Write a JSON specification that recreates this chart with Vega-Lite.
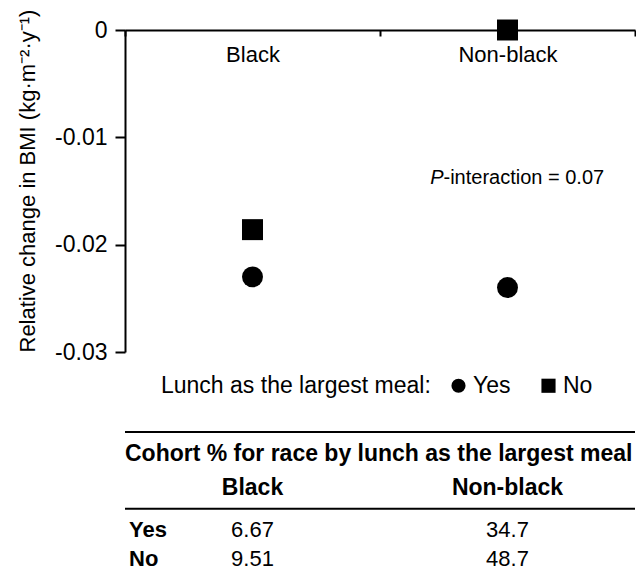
{
  "$schema": "https://vega.github.io/schema/vega-lite/v6.json",
  "padding": {"left": 16, "top": 9, "right": 0, "bottom": 0},
  "config": {
    "view": {"stroke": null},
    "font": "Liberation Sans",
    "axis": {"domainColor": "#000", "tickColor": "#000", "labelColor": "#000", "titleColor": "#000"},
    "text": {"color": "#000"}
  },
  "datasets": {
    "effects": [
      {"race": "Black", "lunch": "Yes", "change": -0.0230},
      {"race": "Black", "lunch": "No", "change": -0.0186},
      {"race": "Non-black", "lunch": "Yes", "change": -0.0240},
      {"race": "Non-black", "lunch": "No", "change": 0.0}
    ],
    "cohort": [
      {"race": "Black", "row": "Yes", "pct": "6.67"},
      {"race": "Non-black", "row": "Yes", "pct": "34.7"},
      {"race": "Black", "row": "No", "pct": "9.51"},
      {"race": "Non-black", "row": "No", "pct": "48.7"}
    ]
  },
  "spacing": 33,
  "resolve": {"scale": {"y": "independent"}, "legend": {"shape": "independent"}},
  "vconcat": [
    {
      "width": 510,
      "height": 322,
      "layer": [
        {
          "data": {"name": "effects"},
          "mark": {"type": "point", "filled": true, "opacity": 1, "size": 440, "color": "#000"},
          "encoding": {
            "x": {
              "field": "race", "type": "nominal",
              "scale": {"type": "band", "domain": ["Black", "Non-black"], "paddingInner": 0, "paddingOuter": 0},
              "axis": {"orient": "bottom", "offset": -322, "title": null, "labelAngle": 0, "labelFontSize": 22, "labelPadding": 8, "tickSize": 6, "tickWidth": 2, "domainWidth": 2, "tickBand": "extent"}
            },
            "y": {
              "field": "change", "type": "quantitative",
              "scale": {"domain": [-0.03, 0], "nice": false, "zero": false},
              "axis": {
                "values": [0, -0.01, -0.02, -0.03],
                "labelExpr": "datum.value === 0 ? '0' : '-' + format(-datum.value, '.2f')",
                "grid": false,
                "title": "Relative change in BMI (kg·m⁻²·y⁻¹)",
                "titleAnchor": "start",
                "titleFontSize": 22,
                "titleFontWeight": "normal",
                "titlePadding": 15,
                "titleLimit": 1000,
                "labelFontSize": 23,
                "labelPadding": 8,
                "tickSize": 10,
                "tickWidth": 2,
                "domainWidth": 2
              }
            },
            "shape": {
              "field": "lunch", "type": "nominal",
              "scale": {"domain": ["Yes", "No"], "range": ["circle", "square"]},
              "legend": {
                "title": "Lunch as the largest meal:",
                "orient": "none",
                "legendX": 36,
                "legendY": 344,
                "direction": "horizontal",
                "titleOrient": "left",
                "titleFontSize": 23,
                "titleFontWeight": "normal",
                "titleColor": "#000",
                "titleLimit": 1000,
                "labelFontSize": 23,
                "labelColor": "#000",
                "symbolSize": 200,
                "symbolFillColor": "#000",
                "symbolStrokeWidth": 0,
                "titlePadding": 16,
                "columnPadding": 26,
                "labelOffset": 3,
                "padding": 0
              }
            }
          }
        },
        {
          "data": {"values": [{}]},
          "mark": {"type": "text", "text": "P", "fontStyle": "italic", "fontSize": 20, "align": "right", "dx": -64},
          "encoding": {"x": {"datum": "Non-black"}, "y": {"datum": -0.0138}}
        },
        {
          "data": {"values": [{}]},
          "mark": {"type": "text", "text": "-interaction = 0.07", "fontSize": 20, "align": "left", "dx": -64},
          "encoding": {"x": {"datum": "Non-black"}, "y": {"datum": -0.0138}}
        }
      ]
    },
    {
      "width": 510,
      "height": 128,
      "layer": [
        {
          "data": {"values": [{}]},
          "mark": {"type": "rule", "strokeWidth": 2, "color": "#000"},
          "encoding": {
            "y": {"datum": "top", "type": "ordinal", "scale": {"type": "point", "padding": 0, "domain": ["top", "Cohort", "Race", "mid", "Yes", "No"]}, "axis": null}
          }
        },
        {
          "data": {"values": [{}]},
          "mark": {"type": "rule", "strokeWidth": 2, "color": "#000"},
          "encoding": {"y": {"datum": "mid", "type": "ordinal"}}
        },
        {
          "data": {"values": [{}]},
          "mark": {"type": "text", "text": "Cohort % for race by lunch as the largest meal", "fontSize": 23, "fontWeight": "bold", "align": "left", "dy": -4},
          "encoding": {
            "x": {"datum": "Black", "bandPosition": 0, "scale": {"type": "band", "domain": ["Black", "Non-black"], "paddingInner": 0, "paddingOuter": 0}, "axis": null},
            "y": {"datum": "Cohort", "type": "ordinal"}
          }
        },
        {
          "data": {"name": "cohort"},
          "transform": [{"filter": "datum.row === 'Yes'"}],
          "mark": {"type": "text", "fontSize": 23, "fontWeight": "bold", "dy": 5},
          "encoding": {
            "x": {"field": "race", "type": "nominal"},
            "y": {"datum": "Race", "type": "ordinal"},
            "text": {"field": "race"}
          }
        },
        {
          "data": {"name": "cohort"},
          "transform": [{"filter": "datum.race === 'Black'"}],
          "mark": {"type": "text", "fontSize": 22, "fontWeight": "bold", "align": "left", "dx": 4},
          "encoding": {
            "x": {"datum": "Black", "bandPosition": 0},
            "y": {"field": "row", "type": "ordinal"},
            "yOffset": {"field": "row", "type": "nominal", "scale": {"domain": ["Yes", "No"], "range": [-6, 0]}},
            "text": {"field": "row"}
          }
        },
        {
          "data": {"name": "cohort"},
          "mark": {"type": "text", "fontSize": 22},
          "encoding": {
            "x": {"field": "race", "type": "nominal"},
            "y": {"field": "row", "type": "ordinal"},
            "yOffset": {"field": "row", "type": "nominal", "scale": {"domain": ["Yes", "No"], "range": [-6, 0]}},
            "text": {"field": "pct"}
          }
        }
      ]
    }
  ]
}
